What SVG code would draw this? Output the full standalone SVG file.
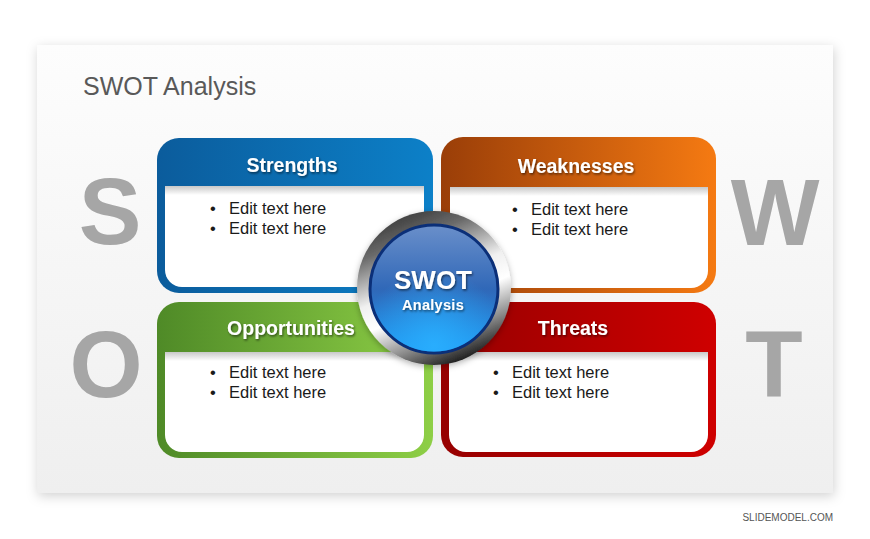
<svg xmlns="http://www.w3.org/2000/svg" width="870" height="539" viewBox="0 0 870 539">
<defs>
<style>
.big{font-family:"Liberation Sans",Arial,sans-serif;font-weight:bold;font-size:94px;fill:#a6a6a6;text-anchor:middle}
.hdr{font-family:"Liberation Sans",Arial,sans-serif;font-weight:bold;font-size:19.5px;fill:#ffffff;text-anchor:middle}
.bul{font-family:"Liberation Sans",Arial,sans-serif;font-size:16.5px;fill:#1a1a1a}
</style>
<filter id="slideShadow" x="-5%" y="-5%" width="110%" height="115%">
<feDropShadow dx="1" dy="3" stdDeviation="6" flood-color="#000" flood-opacity="0.18"/>
</filter>
<filter id="txtShadow" x="-10%" y="-30%" width="120%" height="160%">
<feDropShadow dx="1" dy="1.5" stdDeviation="0.8" flood-color="#000" flood-opacity="0.55"/>
</filter>
<filter id="circShadow" x="-20%" y="-20%" width="140%" height="140%">
<feDropShadow dx="0" dy="2" stdDeviation="3" flood-color="#000" flood-opacity="0.3"/>
</filter>
<linearGradient id="slideFill" x1="0" y1="0" x2="0" y2="1">
<stop offset="0" stop-color="#fdfdfd"/>
<stop offset="1" stop-color="#efefef"/>
</linearGradient>
<linearGradient id="gBlue" x1="0" y1="0" x2="1" y2="0">
<stop offset="0" stop-color="#0b5c9c"/>
<stop offset="1" stop-color="#0c80c8"/>
</linearGradient>
<linearGradient id="gOrange" x1="0" y1="0" x2="1" y2="0">
<stop offset="0" stop-color="#9a3e08"/>
<stop offset="1" stop-color="#f57a12"/>
</linearGradient>
<linearGradient id="gGreen" x1="0" y1="0" x2="1" y2="0">
<stop offset="0" stop-color="#4f8a27"/>
<stop offset="1" stop-color="#8ecf46"/>
</linearGradient>
<linearGradient id="gRed" x1="0" y1="0" x2="1" y2="0">
<stop offset="0" stop-color="#960000"/>
<stop offset="1" stop-color="#cf0000"/>
</linearGradient>
<linearGradient id="innerShade" x1="0" y1="0" x2="0" y2="1">
<stop offset="0" stop-color="#c8c8c8"/>
<stop offset="1" stop-color="#ffffff"/>
</linearGradient>
<linearGradient id="ring" x1="0.3" y1="0" x2="0.7" y2="1">
<stop offset="0" stop-color="#3a3a3a"/>
<stop offset="0.18" stop-color="#6a6a6a"/>
<stop offset="0.45" stop-color="#f0f0f0"/>
<stop offset="0.6" stop-color="#ffffff"/>
<stop offset="0.8" stop-color="#8a8a8a"/>
<stop offset="1" stop-color="#0a0a0a"/>
</linearGradient>
<linearGradient id="blueBall" x1="0" y1="0" x2="0" y2="1">
<stop offset="0" stop-color="#6a8fca"/>
<stop offset="0.5" stop-color="#3068b8"/>
<stop offset="1" stop-color="#1c9af6"/>
</linearGradient>
<radialGradient id="blueGlow" cx="0.5" cy="0.95" r="0.6">
<stop offset="0" stop-color="#2ab0ff" stop-opacity="0.9"/>
<stop offset="1" stop-color="#2ab0ff" stop-opacity="0"/>
</radialGradient>
</defs>

<rect x="0" y="0" width="870" height="539" fill="#ffffff"/>
<rect x="37" y="45" width="796" height="448" fill="url(#slideFill)" filter="url(#slideShadow)"/>

<text x="83" y="95" font-family="'Liberation Sans',Arial,sans-serif" font-size="25" fill="#595959">SWOT Analysis</text>

<g id="letters">
<text class="big" x="110" y="244">S</text>
<text class="big" x="775" y="245">W</text>
<text class="big" x="106" y="397">O</text>
<text class="big" x="774" y="397">T</text>
</g>

<g id="strengths">
<rect x="157" y="138" width="276" height="155" rx="22" fill="url(#gBlue)"/>
<path d="M165 186 H424 V270 A17 17 0 0 1 407 287 H182 A17 17 0 0 1 165 270 Z" fill="#ffffff"/>
<rect x="165" y="186" width="259" height="9" fill="url(#innerShade)"/>
<text class="hdr" x="292" y="172" filter="url(#txtShadow)">Strengths</text>
<text class="bul" x="210" y="214">•</text><text class="bul" x="229" y="214">Edit text here</text>
<text class="bul" x="210" y="234">•</text><text class="bul" x="229" y="234">Edit text here</text>
</g>

<g id="weaknesses">
<rect x="441" y="137" width="275" height="156" rx="22" fill="url(#gOrange)"/>
<path d="M450 187 H708 V271 A17 17 0 0 1 691 288 H467 A17 17 0 0 1 450 271 Z" fill="#ffffff"/>
<rect x="450" y="187" width="258" height="9" fill="url(#innerShade)"/>
<text class="hdr" x="576" y="173" filter="url(#txtShadow)">Weaknesses</text>
<text class="bul" x="512" y="215">•</text><text class="bul" x="531" y="215">Edit text here</text>
<text class="bul" x="512" y="235">•</text><text class="bul" x="531" y="235">Edit text here</text>
</g>

<g id="opportunities">
<rect x="157" y="302" width="276" height="156" rx="22" fill="url(#gGreen)"/>
<path d="M165 352 H424 V435 A17 17 0 0 1 407 452 H182 A17 17 0 0 1 165 435 Z" fill="#ffffff"/>
<rect x="165" y="352" width="259" height="9" fill="url(#innerShade)"/>
<text class="hdr" x="291" y="335" filter="url(#txtShadow)">Opportunities</text>
<text class="bul" x="210" y="378">•</text><text class="bul" x="229" y="378">Edit text here</text>
<text class="bul" x="210" y="398">•</text><text class="bul" x="229" y="398">Edit text here</text>
</g>

<g id="threats">
<rect x="441" y="302" width="275" height="155" rx="22" fill="url(#gRed)"/>
<path d="M449 352 H708 V435 A17 17 0 0 1 691 452 H466 A17 17 0 0 1 449 435 Z" fill="#ffffff"/>
<rect x="449" y="352" width="259" height="9" fill="url(#innerShade)"/>
<text class="hdr" x="573" y="335" filter="url(#txtShadow)">Threats</text>
<text class="bul" x="493" y="378">•</text><text class="bul" x="512" y="378">Edit text here</text>
<text class="bul" x="493" y="398">•</text><text class="bul" x="512" y="398">Edit text here</text>
</g>

<g id="center">
<circle cx="434" cy="288" r="77" fill="url(#ring)" filter="url(#circShadow)"/>
<circle cx="434" cy="289" r="64" fill="url(#blueBall)" stroke="#0b2f78" stroke-width="3"/>
<circle cx="434" cy="289" r="62.5" fill="url(#blueGlow)"/>
<text x="433" y="289" font-family="'Liberation Sans',Arial,sans-serif" font-weight="bold" font-size="26" fill="#ffffff" text-anchor="middle" filter="url(#txtShadow)">SWOT</text>
<text x="433" y="310" font-family="'Liberation Sans',Arial,sans-serif" font-weight="bold" font-size="14.5" fill="#ffffff" text-anchor="middle" letter-spacing="0.3" filter="url(#txtShadow)">Analysis</text>
</g>

<text x="833" y="521" font-family="'Liberation Sans',Arial,sans-serif" font-size="10" fill="#555555" text-anchor="end">SLIDEMODEL.COM</text>
</svg>
